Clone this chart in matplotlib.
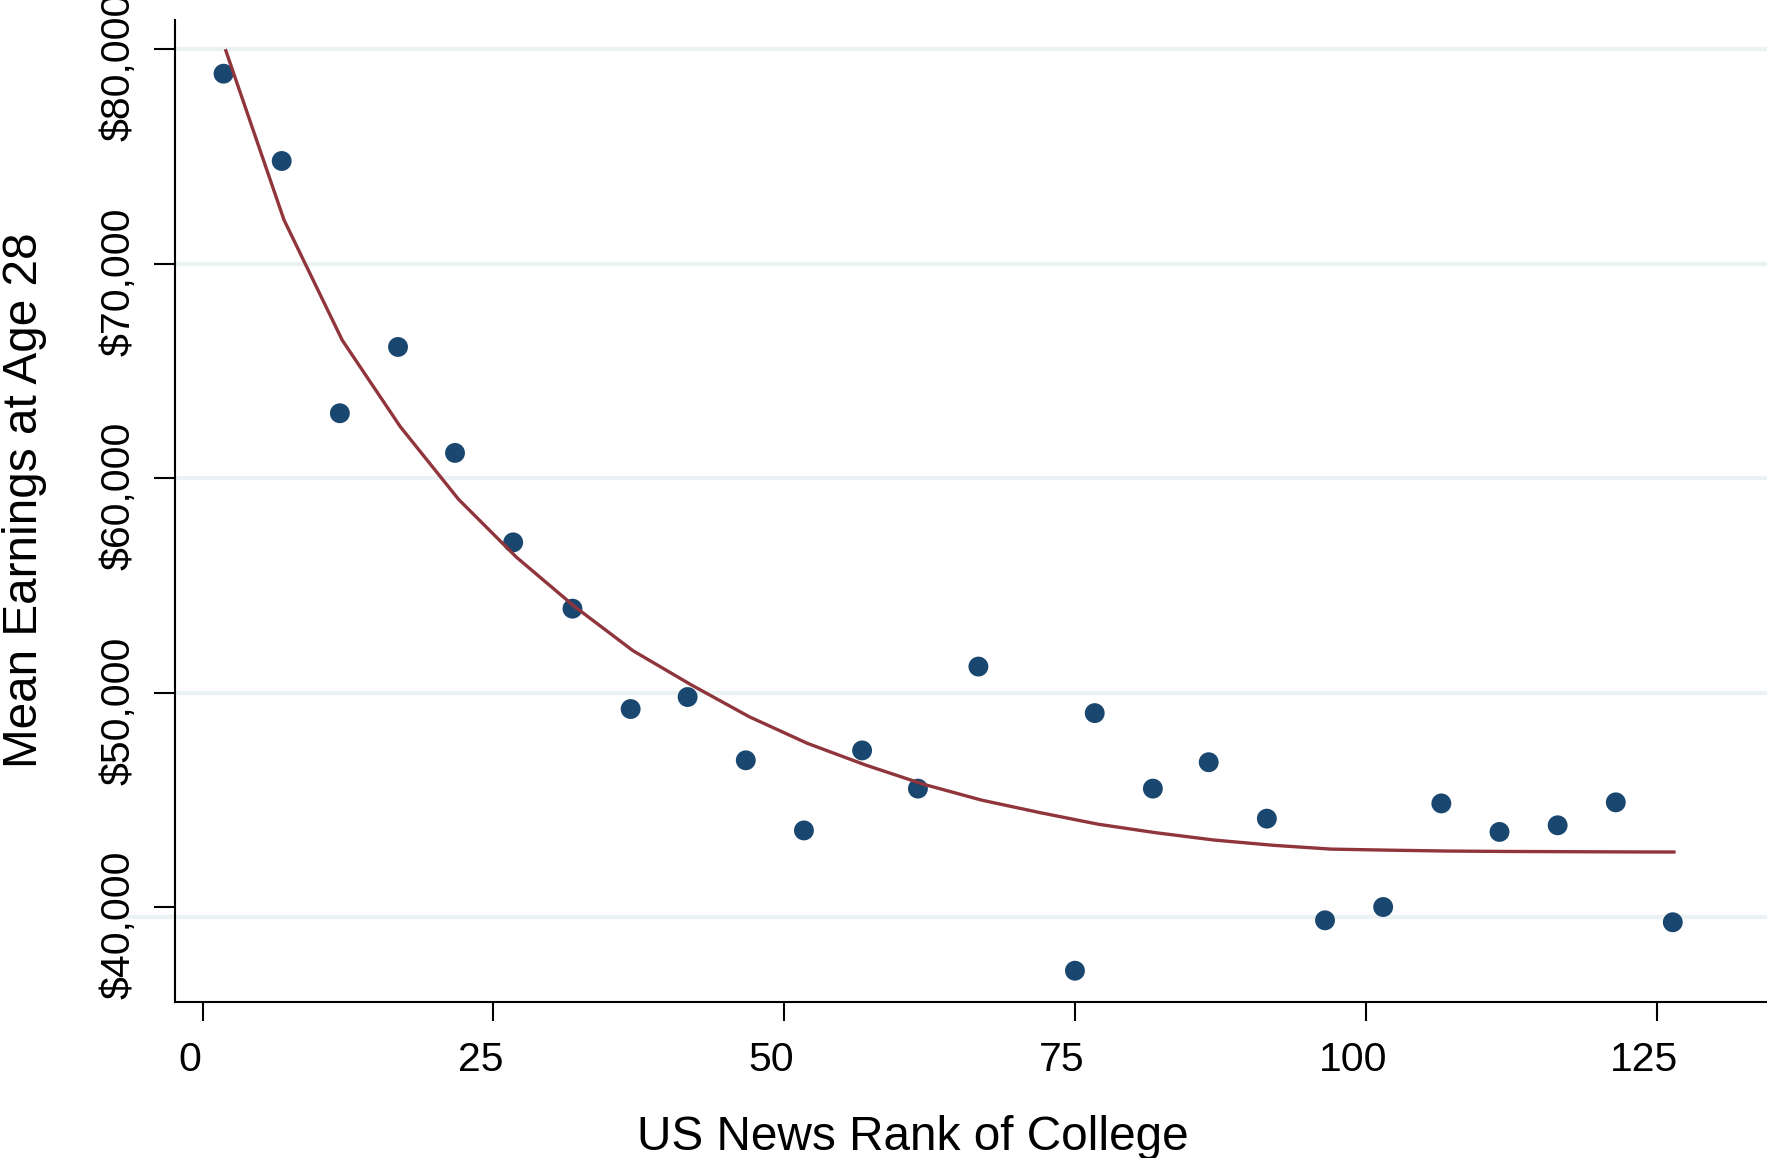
import numpy as np
import matplotlib.pyplot as plt
import matplotlib.transforms as mtransforms

plt.rcParams['font.family'] = ['Liberation Sans', 'DejaVu Sans']

# binned means: college rank vs mean earnings at age 28
rank = [1.8, 6.8, 11.8, 16.8, 21.7, 26.7, 31.8, 36.8, 41.7, 46.7, 51.7, 56.7, 61.5,
        66.7, 75.0, 76.7, 81.7, 86.5, 91.5, 96.5, 101.5, 106.5, 111.5, 116.5, 121.5, 126.4]
earnings = [78850, 74780, 63020, 66110, 61170, 57000, 53910, 49230, 49790, 46840,
            43570, 47300, 45520, 51210, 37030, 49040, 45520, 46750, 44120, 39380,
            40000, 44830, 43500, 43810, 44880, 39290]

# fitted curve
fit_rank = [2, 7, 12, 17, 22, 27, 32, 37, 42, 47, 52, 57, 62, 67, 72, 77, 82, 87,
            92, 97, 102, 107, 112, 117, 122, 126.5]
fit_earn = [79920, 72030, 66430, 62390, 59010, 56300, 54000, 51950, 50360, 48870,
            47630, 46620, 45720, 44980, 44400, 43860, 43460, 43120, 42880, 42700,
            42650, 42610, 42590, 42580, 42570, 42564]

xticks = [0, 25, 50, 75, 100, 125]
yticks = [40000, 50000, 60000, 70000, 80000]
ytick_labels = ['$40,000', '$50,000', '$60,000', '$70,000', '$80,000']
grid_levels = [50000, 60000, 70000, 80000]
low_grid = 39530

navy = '#1a476f'
maroon = '#90353b'
gridc = '#eaf2f3'

fig = plt.figure(figsize=(17.67, 11.58), dpi=100)
ax = fig.add_axes([0.099, 0.1347, 0.901, 0.848])

for g in grid_levels:
    ax.axhline(g, color=gridc, lw=3, zorder=0)
ax.plot([-0.036, 1], [low_grid, low_grid], color=gridc, lw=3, zorder=0,
        transform=ax.get_yaxis_transform(), clip_on=False)

ax.scatter(rank, earnings, s=205, color=navy, edgecolors='none', zorder=3)
ax.plot(fit_rank, fit_earn, color=maroon, lw=2.4, zorder=4)

ax.set_xlim(-2.38, 134.5)
ax.set_ylim(35571, 81352)

ax.spines['top'].set_visible(False)
ax.spines['right'].set_visible(False)
ax.spines['left'].set_linewidth(1.5)
ax.spines['bottom'].set_linewidth(1.5)

ax.set_xticks(xticks)
ax.set_xticklabels([str(t) for t in xticks])
ax.set_yticks(yticks)
ax.set_yticklabels(ytick_labels)

ax.tick_params(axis='x', length=14, width=1.5, pad=14, labelsize=29.5)
ax.tick_params(axis='y', length=15, width=1.5, pad=12, labelsize=29.5, labelrotation=90)

shift_x = mtransforms.ScaledTranslation(-13 / 100, 0, fig.dpi_scale_trans)
for lab in ax.get_xticklabels():
    lab.set_transform(lab.get_transform() + shift_x)
shift_y = mtransforms.ScaledTranslation(0, -18 / 100, fig.dpi_scale_trans)
for lab in ax.get_yticklabels():
    lab.set_va('center')
    lab.set_transform(lab.get_transform() + shift_y)

fig.text(0.5167, 8 / 1158, 'US News Rank of College', fontsize=34.4,
         ha='center', va='baseline')
fig.text(37 / 1767, 0.568, 'Mean Earnings at Age 28', fontsize=34.4, rotation=90,
         rotation_mode='anchor', ha='center', va='baseline')

fig.savefig('out.png', dpi=100)
